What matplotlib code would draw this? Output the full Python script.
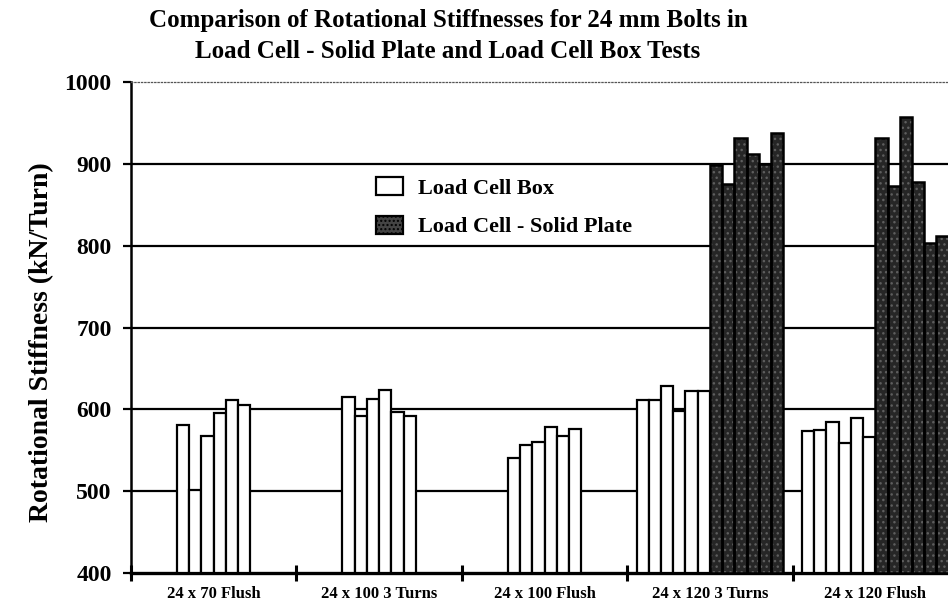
import matplotlib
matplotlib.use("Agg")
import matplotlib.pyplot as plt
from matplotlib.patches import Patch
import numpy as np

categories = ['24 x 70 Flush', '24 x 100 3 Turns', '24 x 100 Flush',
              '24 x 120 3 Turns', '24 x 120 Flush']
load_cell_box = [
    [581, 502, 568, 595, 612, 605],
    [615, 592, 613, 624, 597, 592],
    [540, 556, 560, 578, 568, 576],
    [611, 611, 628, 598, 622, 623],
    [573, 575, 585, 559, 590, 566],
]
load_cell_solid_plate = [
    [],
    [],
    [],
    [898, 875, 931, 912, 900, 938],
    [932, 873, 957, 878, 803, 812],
]
y_ticks = [400, 500, 600, 700, 800, 900, 1000]

plt.rcParams['font.family'] = ['Liberation Serif', 'DejaVu Serif']
plt.rcParams['font.weight'] = 'bold'

W, H = 948, 607
fig = plt.figure(figsize=(W / 100, H / 100), dpi=100)
left, right, bottom, top = 131, 958, 573, 82
ax = fig.add_axes([left / W, 1 - bottom / H, (right - left) / W, (bottom - top) / H])

bw = 0.0738
dark = '#262626'
speck = '#5e5e5e'
for i, cat in enumerate(categories):
    box = load_cell_box[i]
    solid = load_cell_solid_plate[i]
    n = len(box) + len(solid)
    offs = (np.arange(n) - (n - 1) / 2) * bw
    xb = i + 0.5 + offs[:len(box)]
    ax.bar(xb, np.array(box) - 400, bottom=400, width=bw, color='white',
           edgecolor='black', linewidth=1.6, zorder=3)
    if solid:
        xs = i + 0.5 + offs[len(box):]
        ax.bar(xs, np.array(solid) - 400, bottom=400, width=bw, color=dark,
               edgecolor=speck, linewidth=0, hatch='...', zorder=3)
        ax.bar(xs, np.array(solid) - 400, bottom=400, width=bw, fill=False,
               edgecolor='black', linewidth=1.8, zorder=4)

ax.set_xlim(0, len(categories))
ax.set_ylim(y_ticks[0], y_ticks[-1])
ax.set_yticks(y_ticks)
ax.set_yticklabels([str(v) for v in y_ticks], fontsize=17, fontweight='bold')
ax.tick_params(axis='y', direction='out', length=6, width=1.6, pad=8)

ax.set_xticks(range(len(categories) + 1))
ax.set_xticklabels([])
ax.tick_params(axis='x', which='major', direction='inout', length=12, width=2.2)
ax.set_xticks(np.arange(len(categories)) + 0.5, minor=True)
ax.set_xticklabels(categories, minor=True, fontsize=12, fontweight='bold')
ax.tick_params(axis='x', which='minor', length=0, pad=9)

for v in y_ticks[1:-1]:
    ax.axhline(v, color='black', linewidth=1.6, zorder=1)

ax.spines['left'].set_linewidth(1.8)
ax.spines['bottom'].set_linewidth(2.4)
ax.spines['top'].set_linestyle(':')
ax.spines['top'].set_linewidth(0.9)
ax.spines['top'].set_color('#555555')
ax.spines['right'].set_visible(False)

fig.text(42 / W, 1 - 342 / H, 'Rotational Stiffness (kN/Turn)', rotation=90,
         ha='center', va='center', fontsize=20, fontweight='bold')

fig.text(448 / W, 1 - 20 / H, 'Comparison of Rotational Stiffnesses for 24 mm Bolts in',
         ha='center', va='center', fontsize=18, fontweight='bold')
fig.text(448 / W, 1 - 52 / H, 'Load Cell - Solid Plate and Load Cell Box Tests',
         ha='center', va='center', fontsize=18, fontweight='bold')

handles = [Patch(facecolor='white', edgecolor='black', linewidth=1.6, label='Load Cell Box'),
           Patch(facecolor='#444444', edgecolor='black', linewidth=1.6, hatch='....',
                 label='Load Cell - Solid Plate')]
leg = ax.legend(handles=handles, loc='upper left', bbox_to_anchor=(376 / W, 1 - 177 / H),
                bbox_transform=fig.transFigure, frameon=False,
                handlelength=1.2, handleheight=0.85, handletextpad=0.7,
                labelspacing=0.78, borderpad=0, borderaxespad=0,
                prop={'weight': 'bold', 'size': 16})
leg.set_zorder(5)

fig.savefig('out.png', dpi=100)
